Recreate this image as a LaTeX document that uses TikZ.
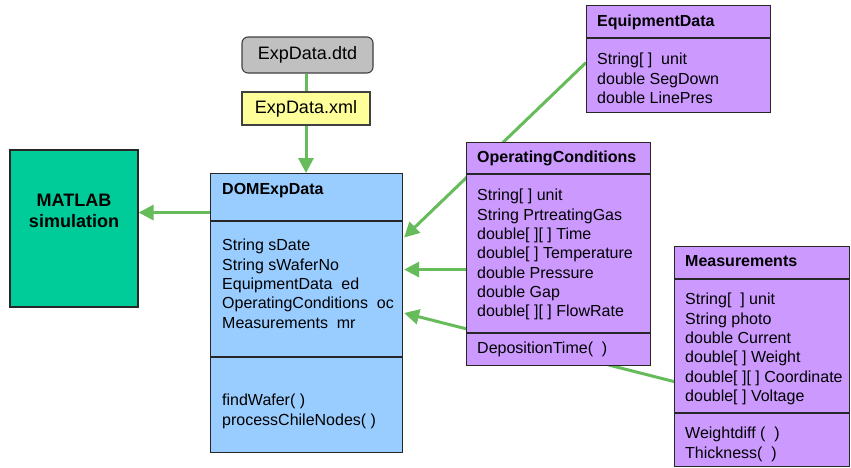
\documentclass[tikz,border=0pt]{standalone}
\usepackage{fontspec}
\setmainfont{Liberation Sans}
\usetikzlibrary{arrows.meta, backgrounds}
\definecolor{linkgreen}{RGB}{102,187,90}
\definecolor{domblue}{RGB}{153,204,255}
\definecolor{classpurple}{RGB}{204,153,255}
\definecolor{simgreen}{RGB}{0,204,153}
\definecolor{dtdgray}{RGB}{192,192,192}
\definecolor{xmlyellow}{RGB}{255,255,153}
\tikzset{
  classbox/.style={draw=black!85, line width=1.1pt, rectangle, inner sep=0pt, anchor=north west},
  classtext/.style={anchor=north west, inner sep=0pt, align=left, font=\fontsize{16}{19.3}\selectfont},
  classtitle/.style={classtext, font=\fontsize{16}{19.3}\selectfont\bfseries},
  filebox/.style={draw=black!75, line width=1.1pt, inner sep=0pt, font=\fontsize{18}{21}\selectfont},
  link/.style={draw=linkgreen, line width=3pt},
  linkarrow/.style={link, -{Triangle[length=15pt, width=15pt]}}
}
% divider across a class box, #2 pt below its top
\newcommand{\classDivider}[2]{
  \draw[black!85, line width=1.1pt] ([yshift=-#2pt]#1.north west) -- ([yshift=-#2pt]#1.north east);
}

\begin{document}
\begin{tikzpicture}[x=1pt, y=-1pt]
  \useasboundingbox (0,0) rectangle (851,467);

  % files
  \node[filebox, fill=dtdgray, rounded corners=6pt, minimum width=131pt, minimum height=36pt] (dtd) at (307.5,55) {ExpData.dtd};
  \node[filebox, fill=xmlyellow, minimum width=128pt, minimum height=33pt] (xml) at (306,108.5) {ExpData.xml};

  % simulation
  \node[draw=black!85, line width=1.1pt, fill=simgreen, minimum width=128pt, minimum height=157pt,
        align=center, font=\fontsize{18}{21}\selectfont\bfseries] (matlab) at (74,228.5) {MATLAB\\simulation\\[14pt]};

  % DOMExpData
  \node[classbox, fill=domblue, minimum width=192pt, minimum height=279pt] (dom) at (210,173) {};
  \classDivider{dom}{48}
  \classDivider{dom}{184}
  \node[classtitle] (domtitle) at (222,183) {DOMExpData};
  \node[classtext] (domattr) at (222,239) {String sDate\\String sWaferNo\\EquipmentData~~ed\\OperatingConditions~~oc\\Measurements~~mr};
  \node[classtext] (dommeth) at (222,394) {findWafer( )\\processChileNodes( )};

  % EquipmentData
  \node[classbox, fill=classpurple, minimum width=184pt, minimum height=107pt] (eq) at (586,5) {};
  \classDivider{eq}{33}
  \node[classtitle] (eqtitle) at (597,15) {EquipmentData};
  \node[classtext] (eqattr) at (597,53) {String[~]~~unit\\double SegDown\\double LinePres};

  % OperatingConditions
  \node[classbox, fill=classpurple, minimum width=184pt, minimum height=223pt] (oc) at (466,142) {};
  \classDivider{oc}{32}
  \classDivider{oc}{191}
  \node[classtitle] (octitle) at (477,151) {OperatingConditions};
  \node[classtext] (ocattr) at (477,189) {String[~] unit\\String PrtreatingGas\\double[~][~] Time\\double[~] Temperature\\double Pressure\\double Gap\\double[~][~] FlowRate};
  \node[classtext] (ocmeth) at (477,342) {DepositionTime(~~)};

  % Measurements
  \node[classbox, fill=classpurple, minimum width=175pt, minimum height=220pt] (ms) at (674,246) {};
  \classDivider{ms}{33}
  \classDivider{ms}{167}
  \node[classtitle] (mstitle) at (685,255) {Measurements};
  \node[classtext] (msattr) at (685,293) {String[~~] unit\\String photo\\double Current\\double[~] Weight\\double[~][~] Coordinate\\double[~] Voltage};
  \node[classtext] (msmeth) at (685,427) {Weightdiff (~~)\\Thickness(~~)};

  \coordinate (domleft) at ([yshift=100.5pt]dom.west);

  \begin{scope}[on background layer]
    \draw[link] (xml.north |- dtd.south) -- (xml.north);
    \draw[linkarrow] (xml.south) -- (xml.south |- dom.north);
    \draw[linkarrow] (domleft) -- (domleft -| matlab.east);
    \draw[linkarrow] ([yshift=-3.5pt]eq.west) -- ([xshift=1pt, yshift=75.5pt]dom.east);
    \draw[linkarrow] ([yshift=-15.5pt]oc.west) -- ([xshift=1pt, yshift=43.5pt]dom.east);
    \draw[linkarrow] ([yshift=-25pt]ms.west) -- ([xshift=1pt]dom.east);
  \end{scope}
\end{tikzpicture}
\end{document}
